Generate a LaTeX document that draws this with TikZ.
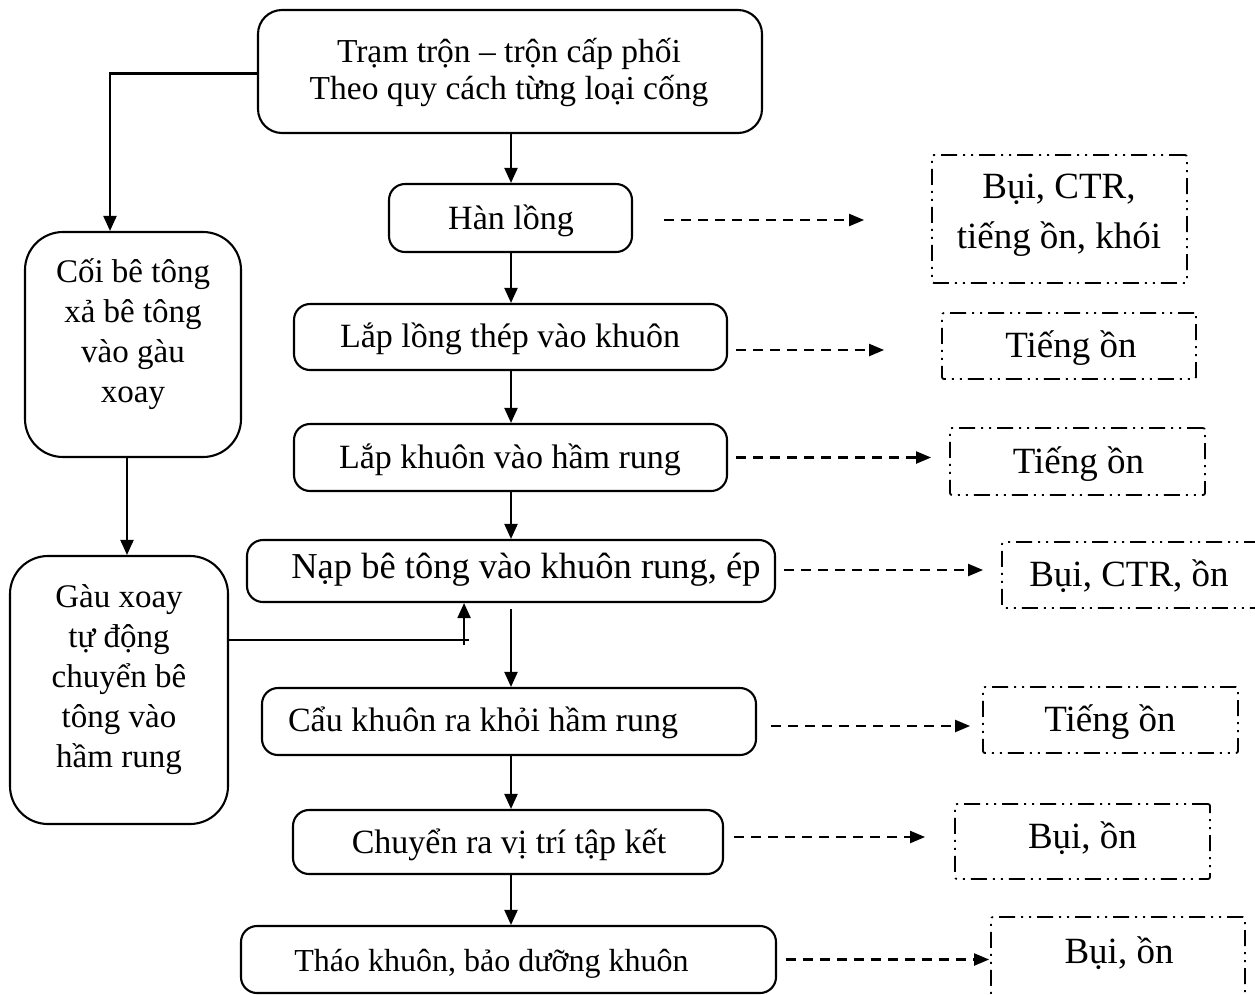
\documentclass[tikz,border=0pt]{standalone}
\usepackage{fontspec}
\setmainfont{Liberation Serif}
\usetikzlibrary{arrows.meta}
\begin{document}
\begin{tikzpicture}[x=1pt,y=-1pt,
  box/.style={draw, line width=2.1pt, rounded corners=16pt, inner sep=0pt},
  bigbox/.style={box, rounded corners=24pt},
  sidebox/.style={box, rounded corners=38pt},
  envbox/.style={draw, line width=1.8pt, rounded corners=2pt, inner sep=0pt,
    dash pattern=on 16pt off 6pt on 2pt off 6pt on 2pt off 6pt},
  txt/.style={inner sep=0pt, align=center, anchor=base, font=\fontsize{34}{37}\selectfont},
  sidetxt/.style={inner sep=0pt, align=center, anchor=base, font=\fontsize{33}{40}\selectfont},
  envtxt/.style={inner sep=0pt, align=center, anchor=base, font=\fontsize{37}{50}\selectfont},
  arr/.style={line width=2.1pt, -{Triangle[length=15pt,width=13pt]}},
  conn/.style={line width=2.1pt},
  darr/.style={line width=2.1pt, dash pattern=on 10pt off 7pt,
    -{Triangle[length=15pt,width=12pt]}}
]
\useasboundingbox (0,0) rectangle (1255,994);
\clip (0,0) rectangle (1255,994);
\coordinate (mx) at (511,0);

% main process boxes
\node[bigbox, minimum width=504pt, minimum height=123pt] (top) at (510,71.5) {};
\node[txt, font=\fontsize{33.5}{37}\selectfont] (topt) at (509,99) {Trạm trộn – trộn cấp phối\\Theo quy cách từng loại cống};
\node[box, minimum width=243pt, minimum height=68pt] (han) at (510.5,218) {};
\node[txt] (hant) at (511,229) {Hàn lồng};
\node[box, minimum width=433pt, minimum height=66pt] (laplong) at (510.5,337) {};
\node[txt] (laplongt) at (510,347) {Lắp lồng thép vào khuôn};
\node[box, minimum width=433pt, minimum height=67pt] (lapkhuon) at (510.5,457.5) {};
\node[txt] (lapkhuont) at (510,468) {Lắp khuôn vào hầm rung};
\node[box, minimum width=528pt, minimum height=62pt] (nap) at (511,571) {};
\node[txt, font=\fontsize{36.5}{37}\selectfont] (napt) at (526,578) {Nạp bê tông vào khuôn rung, ép};
\node[box, minimum width=494pt, minimum height=67pt] (cau) at (509,721.5) {};
\node[txt] (caut) at (483,731) {Cẩu khuôn ra khỏi hầm rung};
\node[box, minimum width=430pt, minimum height=64pt] (chuyen) at (508,842) {};
\node[txt] (chuyent) at (509,853) {Chuyển ra vị trí tập kết};
\node[box, minimum width=535pt, minimum height=67pt] (thao) at (508.5,959.5) {};
\node[txt, font=\fontsize{32}{37}\selectfont] (thaot) at (491.5,971) {Tháo khuôn, bảo dưỡng khuôn};

% left boxes
\node[sidebox, minimum width=216pt, minimum height=225pt] (coi) at (133,344.5) {};
\node[sidetxt] (coit) at (133,402) {Cối bê tông\\xả bê tông\\vào gàu\\xoay};
\node[sidebox, minimum width=218pt, minimum height=268pt] (gau) at (119,690) {};
\node[sidetxt] (gaut) at (119,767) {Gàu xoay\\tự động\\chuyển bê\\tông vào\\hầm rung};

% environmental impact boxes
\node[envbox, minimum width=255pt, minimum height=128pt] (r1) at (1059.5,219) {};
\node[envtxt] (r1t) at (1059,248) {Bụi, CTR,\\tiếng ồn, khói};
\node[envbox, minimum width=254pt, minimum height=66pt] (r2) at (1069,346) {};
\node[envtxt] (r2t) at (1071,357) {Tiếng ồn};
\node[envbox, minimum width=255pt, minimum height=67pt] (r3) at (1077.5,461.5) {};
\node[envtxt] (r3t) at (1078.5,473) {Tiếng ồn};
\node[envbox, minimum width=260pt, minimum height=66pt] (r4) at (1132,575) {};
\node[envtxt] (r4t) at (1129,586) {Bụi, CTR, ồn};
\node[envbox, minimum width=255pt, minimum height=66pt] (r5) at (1110.5,720) {};
\node[envtxt] (r5t) at (1110,731) {Tiếng ồn};
\node[envbox, minimum width=255pt, minimum height=75pt] (r6) at (1082.5,841.5) {};
\node[envtxt] (r6t) at (1082.5,848) {Bụi, ồn};
\node[envbox, minimum width=254pt, minimum height=86pt] (r7) at (1118,960) {};
\node[envtxt] (r7t) at (1119,963) {Bụi, ồn};

% main vertical flow
\draw[arr] (top.south -| mx) -- (han.north -| mx);
\draw[arr] (han.south -| mx) -- (laplong.north -| mx);
\draw[arr] (laplong.south -| mx) -- (lapkhuon.north -| mx);
\draw[arr] (lapkhuon.south -| mx) -- (nap.north -| mx);
\draw[arr] ([yshift=-6pt]nap.south -| mx) -- (cau.north -| mx);
\draw[arr] (cau.south -| mx) -- (chuyen.north -| mx);
\draw[arr] (chuyen.south -| mx) -- (thao.north -| mx);

% left branch
\draw[arr] ([yshift=-2pt]top.west) -| ([xshift=-23pt]coi.north);
\draw[arr] ([xshift=-6pt]coi.south) -- ([xshift=-6pt]coi.south |- gau.north);
\draw[conn] ([yshift=50pt]gau.east) -- ([xshift=240pt,yshift=50pt]gau.east) coordinate (gj);
\draw[arr] ([shift={(-5pt,-5pt)}]gj) -- ([xshift=-5pt]gj |- nap.south);

% dashed impact arrows
\draw[darr] ([xshift=31pt,yshift=-2pt]han.east) -- ([xshift=-67pt,yshift=-2pt]han.east -| r1.west);
\draw[darr] ([xshift=8pt,yshift=-13pt]laplong.east) -- ([xshift=-57pt,yshift=-13pt]laplong.east -| r2.west);
\draw[darr] ([xshift=8pt]lapkhuon.east) -- ([xshift=-18pt]lapkhuon.east -| r3.west);
\draw[darr] ([xshift=8pt,yshift=1pt]nap.east) -- ([xshift=-18pt,yshift=1pt]nap.east -| r4.west);
\draw[darr] ([xshift=14pt,yshift=-4.5pt]cau.east) -- ([xshift=-12pt,yshift=-4.5pt]cau.east -| r5.west);
\draw[darr] ([xshift=10pt,yshift=5pt]chuyen.east) -- ([xshift=-29pt,yshift=5pt]chuyen.east -| r6.west);
\draw[darr] ([xshift=9pt]thao.east) -- ([xshift=-1pt]thao.east -| r7.west);
\end{tikzpicture}
\end{document}
